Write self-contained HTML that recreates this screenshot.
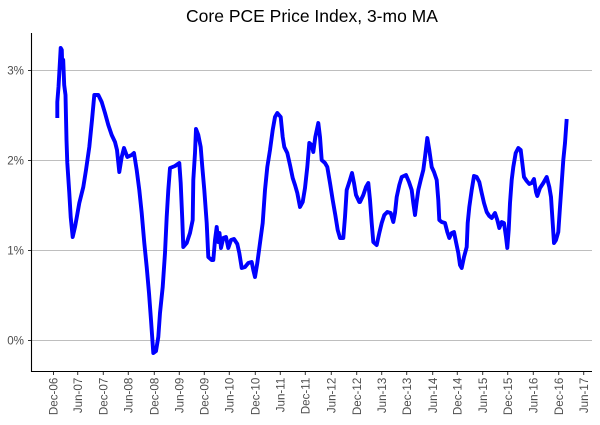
<!DOCTYPE html>
<html>
<head>
<meta charset="utf-8">
<style>
html,body{margin:0;padding:0;background:#fff;}
svg{display:block;}
text{font-family:"Liberation Sans",Arial,sans-serif;}
</style>
</head>
<body>
<svg width="600" height="425" viewBox="0 0 600 425" xmlns="http://www.w3.org/2000/svg">
<rect width="600" height="425" fill="#fff"/>
<text x="312" y="22" font-size="17.5" text-anchor="middle" fill="#000">Core PCE Price Index, 3-mo MA</text>
<!-- gridlines -->
<g stroke="#bebebe" stroke-width="1">
<line x1="32" y1="70.5" x2="592" y2="70.5"/>
<line x1="32" y1="160.5" x2="592" y2="160.5"/>
<line x1="32" y1="250.5" x2="592" y2="250.5"/>
<line x1="32" y1="340.5" x2="592" y2="340.5"/>
</g>
<!-- series -->
<polyline fill="none" stroke="#0000ff" stroke-width="3.9" stroke-linejoin="round" stroke-linecap="butt" points="
57.3,118 57.3,102 58.5,87 59.3,73 60.7,48 61.8,50 62.3,68 63.2,60 64.2,85 65.5,95 66.5,140 67.3,163 69.3,193 70.7,217 72.7,237 75,227 77,216 79.3,203 83.3,187 86,170 89.3,147 92,120 94.3,95 98.3,95 101.7,102 105,113 108.3,125 111.7,135 115,142 117,150 119.3,172 121.7,157 124,148 127.3,157 131.7,155 134,153 136.7,170 139.3,190 141.7,213 144.3,243 146.7,267 149,293 151,320 153.3,353 156,351 158.3,337 160,313 162.7,287 165,253 166.7,217 168.3,190 170,168 175,166 179.3,163 180.7,183 182.3,220 183.3,247 186.7,243 190,233 192.7,220 193.3,180 195,153 196,129 198.3,135 200.7,147 202.3,167 204.3,190 206.7,223 208.3,257 211.7,260 213.3,260 215,240 216.7,227 218.3,242 219.5,233 221,248 223.3,238 226,237 228.3,248 231,240 234,239 237.3,244 239.3,253 241.7,268 245,267 248.3,263 251.7,262 253.3,270 255,277 257.3,263 260,243 262.7,223 265,190 267.3,167 270,150 272.7,130 275,117 277.3,113 280.7,117 282.7,137 284.3,147 287.3,153 290,165 292.7,178 295,185 297.3,193 300,207 302.7,202 305,188 307.3,167 309.3,143 311.7,145 313.3,152 315.3,137 318.3,123 320,137 321.7,160 325,163 327.3,167 330,183 332.7,200 335.3,215 337.7,230 340,238 343.3,238 345,217 346.7,190 349.3,182 352,173 354,183 356,195 359.3,202 360,202 363.3,195 366,187 368.3,183 370,200 371.7,223 373.3,242 376.7,245 379.3,233 381.7,223 384.3,215 387.3,212 390.7,213 393.3,222 395,213 396.7,197 399.3,185 401.7,177 406,175 409,182 411.7,190 413.3,203 415,215 416.5,203 418.3,190 420.7,180 423.3,170 425,157 427.3,138 429.3,150 431.7,167 434,172 436.7,180 438.3,200 439.3,220 441.7,222 445,223 447.3,232 449.3,238 451.7,233 454,232 456,242 458.3,253 460,265 461.7,268 464,257 466.7,247 467.7,223 469.3,207 471.7,190 474,176 476.7,177 479.3,182 481.7,193 484,203 486.7,212 489.3,216 491.7,218 495,213 497.3,220 499.3,228 501.7,222 504,223 506,237 507.3,248 508.7,230 510,203 511.7,180 513.3,167 515.7,153 518.3,148 520.7,150 522.3,163 524,177 526.7,181 529.3,184 531.7,183 534,179 536,192 537.3,196 540,188 543.3,183 546.7,177 549.3,187 551,197 552.3,217 554,243 556,240 558.3,232 560,207 561.7,183 563.3,160 565,143 566.7,119"/>
<!-- axes -->
<g stroke="#000" stroke-width="1.1">
<line x1="31.5" y1="33" x2="31.5" y2="372"/>
<line x1="31" y1="371.5" x2="592" y2="371.5"/>
</g>
<!-- y ticks -->
<g stroke="#333" stroke-width="1">
<line x1="28" y1="70.5" x2="31" y2="70.5"/>
<line x1="28" y1="160.5" x2="31" y2="160.5"/>
<line x1="28" y1="250.5" x2="31" y2="250.5"/>
<line x1="28" y1="340.5" x2="31" y2="340.5"/>
</g>
<g font-size="11.6" fill="#4d4d4d" text-anchor="end">
<text x="24" y="74.5">3%</text>
<text x="24" y="164.5">2%</text>
<text x="24" y="254.5">1%</text>
<text x="24" y="344.5">0%</text>
</g>
<!-- x ticks -->
<g stroke="#333" stroke-width="1">
<line x1="53.5" y1="372" x2="53.5" y2="375"/>
<line x1="77.7" y1="372" x2="77.7" y2="375"/>
<line x1="103.3" y1="372" x2="103.3" y2="375"/>
<line x1="128.3" y1="372" x2="128.3" y2="375"/>
<line x1="154.3" y1="372" x2="154.3" y2="375"/>
<line x1="179.3" y1="372" x2="179.3" y2="375"/>
<line x1="204.3" y1="372" x2="204.3" y2="375"/>
<line x1="229.3" y1="372" x2="229.3" y2="375"/>
<line x1="255.3" y1="372" x2="255.3" y2="375"/>
<line x1="280.3" y1="372" x2="280.3" y2="375"/>
<line x1="305.3" y1="372" x2="305.3" y2="375"/>
<line x1="331.3" y1="372" x2="331.3" y2="375"/>
<line x1="356.7" y1="372" x2="356.7" y2="375"/>
<line x1="381.7" y1="372" x2="381.7" y2="375"/>
<line x1="406.7" y1="372" x2="406.7" y2="375"/>
<line x1="432.7" y1="372" x2="432.7" y2="375"/>
<line x1="457.3" y1="372" x2="457.3" y2="375"/>
<line x1="482.7" y1="372" x2="482.7" y2="375"/>
<line x1="507.7" y1="372" x2="507.7" y2="375"/>
<line x1="533.3" y1="372" x2="533.3" y2="375"/>
<line x1="558.7" y1="372" x2="558.7" y2="375"/>
<line x1="583.7" y1="372" x2="583.7" y2="375"/>
</g>
<g font-size="11.6" fill="#4d4d4d" text-anchor="end">
<text transform="translate(57.7,377.7) rotate(-90)">Dec-06</text>
<text transform="translate(81.9,377.7) rotate(-90)">Jun-07</text>
<text transform="translate(107.5,377.7) rotate(-90)">Dec-07</text>
<text transform="translate(132.5,377.7) rotate(-90)">Jun-08</text>
<text transform="translate(158.5,377.7) rotate(-90)">Dec-08</text>
<text transform="translate(183.5,377.7) rotate(-90)">Jun-09</text>
<text transform="translate(208.5,377.7) rotate(-90)">Dec-09</text>
<text transform="translate(233.5,377.7) rotate(-90)">Jun-10</text>
<text transform="translate(259.5,377.7) rotate(-90)">Dec-10</text>
<text transform="translate(284.5,377.7) rotate(-90)">Jun-11</text>
<text transform="translate(309.5,377.7) rotate(-90)">Dec-11</text>
<text transform="translate(335.5,377.7) rotate(-90)">Jun-12</text>
<text transform="translate(360.9,377.7) rotate(-90)">Dec-12</text>
<text transform="translate(385.9,377.7) rotate(-90)">Jun-13</text>
<text transform="translate(410.9,377.7) rotate(-90)">Dec-13</text>
<text transform="translate(436.9,377.7) rotate(-90)">Jun-14</text>
<text transform="translate(461.5,377.7) rotate(-90)">Dec-14</text>
<text transform="translate(486.9,377.7) rotate(-90)">Jun-15</text>
<text transform="translate(511.9,377.7) rotate(-90)">Dec-15</text>
<text transform="translate(537.5,377.7) rotate(-90)">Jun-16</text>
<text transform="translate(562.9,377.7) rotate(-90)">Dec-16</text>
<text transform="translate(587.9,377.7) rotate(-90)">Jun-17</text>
</g>
</svg>
</body>
</html>
